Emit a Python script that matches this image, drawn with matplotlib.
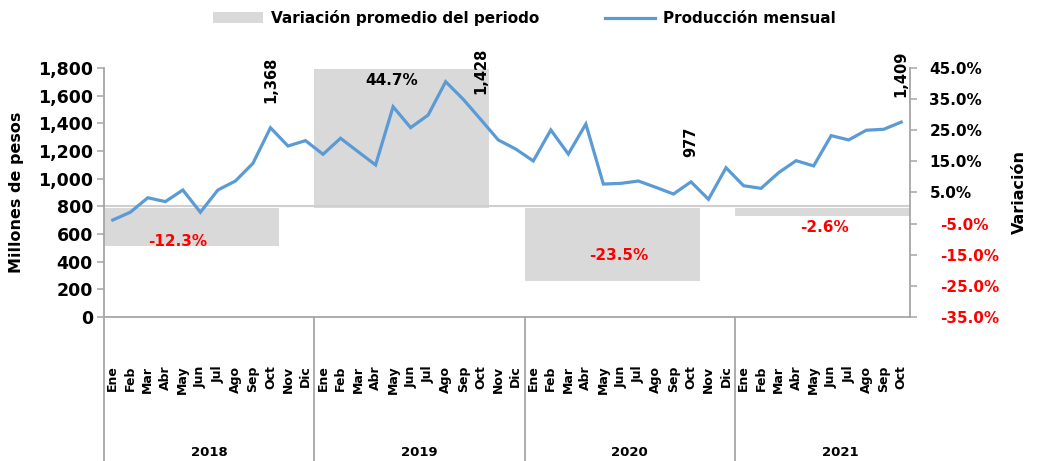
import matplotlib
matplotlib.use("Agg")
import matplotlib.pyplot as plt
from matplotlib.patches import Patch
from matplotlib.lines import Line2D
import matplotlib.transforms as mtransforms
import numpy as np

plt.rcParams["font.family"] = ["DejaVu Sans"]
plt.rcParams["font.weight"] = "bold"

# data
months = ["Ene", "Feb", "Mar", "Abr", "May", "Jun", "Jul", "Ago", "Sep", "Oct", "Nov", "Dic"]
years = ["2018", "2019", "2020", "2021"]
prod_2018 = [701, 757, 862, 834, 918, 757, 918, 983, 1111, 1368, 1236, 1275]
prod_2019 = [1176, 1292, 1195, 1099, 1520, 1369, 1460, 1701, 1574, 1428, 1280, 1214]
prod_2020 = [1128, 1352, 1178, 1395, 961, 966, 983, 937, 889, 977, 851, 1079]
prod_2021 = [949, 930, 1043, 1130, 1092, 1311, 1280, 1350, 1357, 1409]
variacion = [-12.3, 44.7, -23.5, -2.6]

# layout for the variation labels (percent units / month offsets)
var_label_y = [-10.9, 41.1, -15.1, -6.1]
var_label_dx = [-0.8, -0.6, 0.4, 0.1]

produccion = prod_2018 + prod_2019 + prod_2020 + prod_2021
month_labels = months * 3 + months[:len(prod_2021)]
x = np.arange(len(produccion))
year_start = [-0.5 + 12 * i for i in range(len(years))]

blue = "#5B9BD5"
gray = "#D9D9D9"
spine = "#A6A6A6"

fig = plt.figure(figsize=(10.4, 4.61), dpi=100)
ax = fig.add_axes([0.1, 0.3124, 0.775, 0.5401])
ax2 = ax.twinx()
ax.set_zorder(ax2.get_zorder() + 1)
ax.patch.set_visible(False)

# bars of yearly variation (right axis)
ax2.bar(year_start, variacion, width=10, align="edge", color=gray, zorder=1)
ax2.axhline(0.6, color="#CFCFCF", lw=1.5, zorder=2)
ax2.set_ylim(-35, 45)
ax2.set_yticks(np.arange(-35, 46, 10))
ax2.set_yticklabels([f"{v:.1f}%" for v in np.arange(-35, 46, 10)])
for i, v in enumerate(variacion):
    ax2.text(year_start[i] + 5 + var_label_dx[i], var_label_y[i], f"{v:.1f}%",
             ha="center", va="center", fontsize=11, fontweight="bold",
             color="red" if v < 0 else "black")

# monthly line (left axis)
ax.plot(x, produccion, color=blue, lw=2.3, solid_joinstyle="miter", zorder=3)
for i, lab in enumerate(month_labels):
    if lab == "Oct":
        ax.annotate(f"{produccion[i]:,.0f}", (x[i], produccion[i]), xytext=(0, 18),
                    textcoords="offset points", rotation=90, ha="center", va="bottom",
                    fontsize=10.5, fontweight="bold")

ax.set_ylim(0, 1800)
ax.set_yticks(np.arange(0, 1801, 200))
ax.set_yticklabels([f"{v:,.0f}" for v in np.arange(0, 1801, 200)])
ax.set_xlim(-0.5, len(produccion) - 0.5)
ax.set_xticks(x)
ax.set_xticklabels(month_labels, rotation=90, fontsize=9, fontweight="bold", va="top")
ax.tick_params(axis="x", length=0, pad=35)
ax.tick_params(axis="y", length=5, width=1.1, color=spine, labelsize=12.5, pad=3)
ax2.tick_params(axis="y", length=5, width=1.1, color=spine, labelsize=11, pad=9)
for t, v in zip(ax2.yaxis.get_major_ticks(), np.arange(-35, 46, 10)):
    if v < 0:
        t.set_pad(17)
        t.label2.set_color("red")

for a in (ax, ax2):
    a.spines["top"].set_visible(False)
    for s in ("left", "right", "bottom"):
        a.spines[s].set_color(spine)
        a.spines[s].set_linewidth(1.3)
ax.spines["right"].set_visible(False)
ax2.spines["left"].set_visible(False)
ax2.spines["bottom"].set_visible(False)

ax.set_ylabel("Millones de pesos", fontsize=11.5, fontweight="bold", labelpad=10)
ax2.set_ylabel("Variación", fontsize=11.5, fontweight="bold", labelpad=9)

# year separators and labels
trans = mtransforms.blended_transform_factory(ax.transData, ax.transAxes)
for i, yr in enumerate(years):
    ax.plot([year_start[i], year_start[i]], [-0.58, 0], transform=trans,
            color=spine, lw=1.3, clip_on=False)
    ax.text(year_start[i] + 6, -0.545, yr, transform=trans, ha="center", va="center",
            fontsize=9.5, fontweight="bold")

handles = [Patch(facecolor=gray, edgecolor="none"), Line2D([], [], color=blue, lw=2.3)]
fig.legend(handles, ["Variación promedio del periodo", "Producción mensual"],
           loc="center", bbox_to_anchor=(0.504, 0.961), ncol=2, frameon=False,
           handlelength=3.3, handleheight=0.72, handletextpad=0.5,
           columnspacing=4.3, prop={"weight": "bold", "size": 11})

fig.savefig("out.png", dpi=100)
